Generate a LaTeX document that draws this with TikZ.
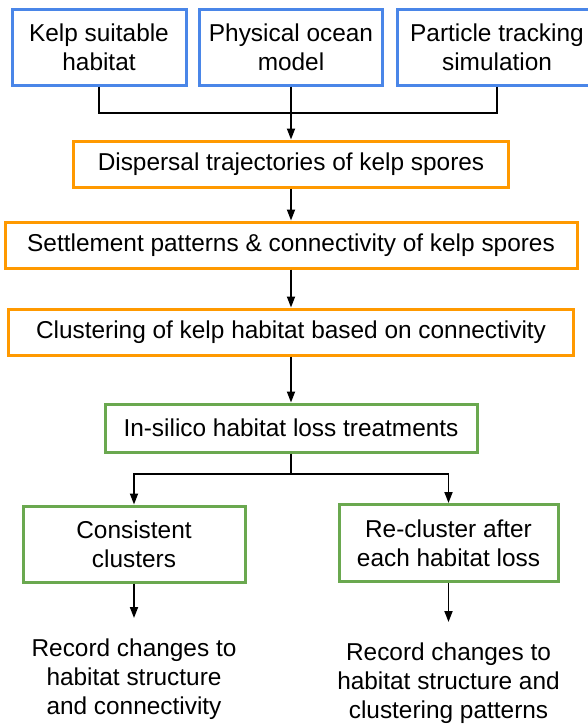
\documentclass[tikz,border=0pt]{standalone}
\usepackage{fontspec}
\setmainfont{Liberation Sans}
\usetikzlibrary{arrows.meta}
\definecolor{cblue}{HTML}{4A86E8}
\definecolor{corange}{HTML}{FF9900}
\definecolor{cgreen}{HTML}{6AA84F}
\begin{document}
\begin{tikzpicture}[x=1pt,y=-1pt,
  every node/.style={font=\fontsize{24.4}{29}\selectfont, align=center, inner sep=0pt},
  boxb/.style={draw=cblue, line width=3pt, minimum height=76pt},
  boxo/.style={draw=corange, line width=3pt, minimum height=46pt},
  boxg/.style={draw=cgreen, line width=3pt},
  conn/.style={draw=black, line width=1.8pt},
  arr/.style={conn, -{Triangle[width=8pt,length=11pt]}},
  txt/.style={}]
\useasboundingbox (0,0) rectangle (587,726);
\node[boxb, minimum width=174pt] (kelp) at (99,47) {Kelp suitable\\habitat};
\node[boxb, minimum width=183pt] (ocean) at (291,47) {Physical ocean\\model};
\node[boxb, minimum width=200pt] (part) at (497,47) {Particle tracking\\simulation};
\node[boxo, minimum width=435pt] (disp) at (291,164) {Dispersal trajectories of kelp spores};
\node[boxo, minimum width=572pt] (settle) at (291,245) {Settlement patterns \& connectivity of kelp spores};
\node[boxo, minimum width=565pt] (clust) at (291,332) {Clustering of kelp habitat based on connectivity};
\node[boxg, minimum width=372pt, minimum height=48pt] (silico) at (291,428) {In-silico habitat loss treatments};
\node[boxg, minimum width=222pt, minimum height=76pt] (cons) at (134,544) {Consistent\\clusters};
\node[boxg, minimum width=219pt, minimum height=77pt] (recl) at (448.5,543) {Re-cluster after\\each habitat loss};
\node[txt] (recA) at (134,679.5) {Record changes to\\habitat structure\\and connectivity};
\node[txt] (recB) at (448.5,683) {Record changes to\\habitat structure and\\clustering patterns};
\coordinate (j1) at (291,113);
\coordinate (j2) at (291,474);
\coordinate (endA) at (134,618);
\coordinate (endB) at (448.5,622);
\draw[conn] (kelp.south) |- (j1);
\draw[conn] (part.south) |- (j1);
\draw[arr] (ocean.south) -- (disp.north);
\draw[arr] (disp.south) -- (settle.north);
\draw[arr] (settle.south) -- (clust.north);
\draw[arr] (clust.south) -- (silico.north);
\draw[conn] (silico.south) -- (j2);
\draw[arr] (j2) -| (cons.north);
\draw[arr] (j2) -| (recl.north);
\draw[arr] (cons.south) -- (endA);
\draw[arr] (recl.south) -- (endB);
\end{tikzpicture}
\end{document}
